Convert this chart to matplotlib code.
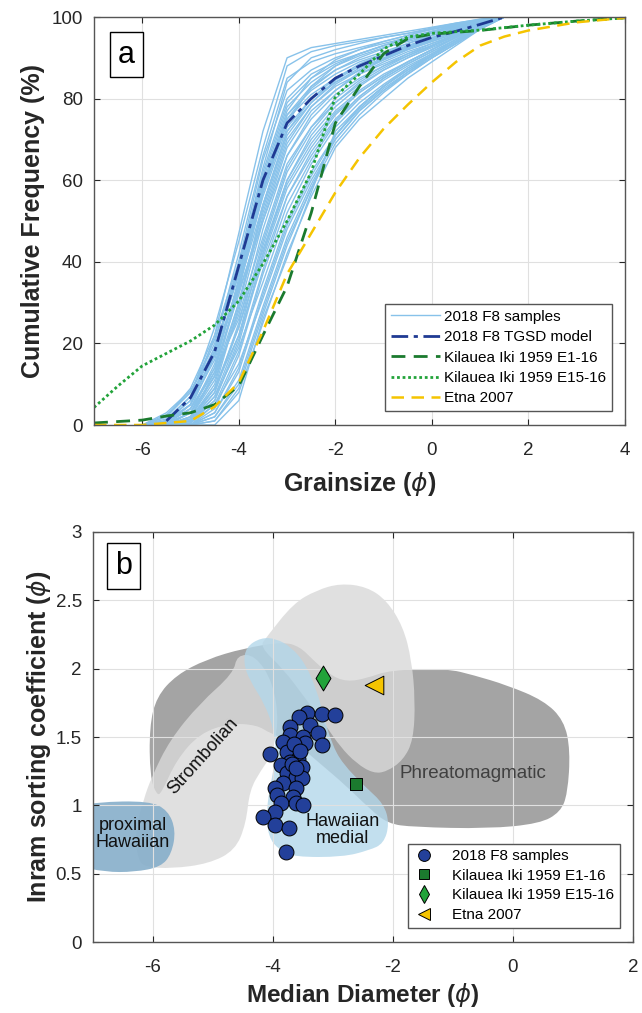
import matplotlib.pyplot as plt
from matplotlib.patches import PathPatch
from matplotlib.path import Path
from matplotlib.lines import Line2D
import numpy as np

plt.rcParams['font.family'] = ['Liberation Sans', 'DejaVu Sans']
plt.rcParams['mathtext.fontset'] = 'dejavusans'
plt.rcParams['axes.unicode_minus'] = False

# ---------------- panel a : cumulative grainsize curves ----------------
phi_grid = [-6, -5.5, -5, -4.5, -4, -3.5, -3, -2.5, -2, -1.5, -1, -0.5, 0, 0.5, 1, 1.5]

sample_cdf = [
    [0, 0, 5, 22, 47, 72, 90, 92.5, 93.5, 94.5, 95.5, 96.5, 97.5, 98.5, 99.5, 100],
    [0, 1, 7, 24, 45, 68, 88, 91.5, 93, 94, 95, 96, 97, 98, 99.3, 100],
    [0, 2, 8, 20, 42, 66, 85, 89, 91, 92.5, 94, 95.5, 97, 98.2, 99.2, 100],
    [0, 0.5, 4, 17, 40, 65, 82, 87, 90, 92, 93.5, 95, 96.5, 97.8, 99, 100],
    [0, 1, 6, 19, 38, 62, 80, 86, 89, 91, 93, 94.5, 96, 97.5, 99, 100],
    [0, 0, 3, 14, 36, 60, 78, 84, 88, 90.5, 92.5, 94, 95.5, 97, 98.8, 100],
    [0, 2, 9, 22, 40, 58, 76, 82, 86, 89, 91, 93, 95, 96.8, 98.5, 100],
    [0, 0, 2, 12, 33, 57, 75, 81, 85, 88, 90.5, 92.5, 94.5, 96.5, 98.5, 100],
    [0, 1, 5, 16, 35, 56, 73, 80, 84, 87, 89.5, 92, 94, 96, 98.2, 100],
    [0, 0, 1.5, 10, 30, 54, 72, 79, 84, 87.5, 90, 92.5, 94.5, 96.5, 98.5, 100],
    [0, 0.5, 4, 14, 32, 52, 70, 78, 83, 86, 89, 91.5, 93.5, 95.5, 98, 100],
    [0, 0, 2, 11, 28, 50, 68, 77, 82, 86, 88.5, 91, 93, 95.5, 98, 100],
    [0, 1, 6, 17, 33, 50, 66, 75, 81, 85, 88, 90.5, 93, 95.5, 98, 100],
    [0, 0, 1, 8, 25, 48, 66, 76, 82, 86.5, 89.5, 92, 94, 96, 98.5, 100],
    [0, 0, 3, 12, 27, 46, 64, 73, 79, 83.5, 87, 90, 92.5, 95, 97.8, 100],
    [0, 0, 0.5, 7, 22, 44, 62, 72, 79, 84, 87.5, 90.5, 93, 95.5, 98, 100],
    [0, 0.5, 4, 13, 26, 43, 60, 70, 77, 82, 86, 89, 92, 95, 97.8, 100],
    [0, 0, 1, 6, 20, 41, 58, 68, 76, 81.5, 85.5, 89, 92, 95, 97.5, 100],
    [0, 0, 2, 9, 22, 40, 56, 67, 75, 80.5, 85, 88.5, 91.5, 94.5, 97.5, 100],
    [0, 0, 0, 4, 17, 37, 54, 65, 74, 80, 84.5, 88, 91, 94, 97.2, 100],
    [0, 0, 1, 7, 19, 35, 52, 64, 73, 79, 83.5, 87.5, 91, 94.5, 97.5, 100],
    [0, 0, 0, 3, 14, 33, 50, 62, 71, 77.5, 82.5, 86.5, 90, 93.5, 97, 100],
    [0, 0, 0.5, 5, 15, 31, 48, 60, 70, 77, 82, 86.5, 90.5, 94, 97.5, 100],
    [0, 0, 0, 2, 11, 29, 46, 59, 70, 77, 82, 86, 90, 93.5, 97.2, 100],
    [0, 0, 0, 1, 9, 27, 44, 58, 71, 78, 83, 87, 90.5, 94, 97.5, 100],
    [0, 0, 0, 0, 6, 26, 41, 57, 72, 78, 83, 87.5, 90.6, 94, 98, 100],
    [0, 0, 0, 1, 8, 25, 42, 56, 68, 75, 80, 85, 89, 93, 97, 100],
    [0, 1.5, 7, 19, 37, 57, 74, 83, 88, 91, 93, 95, 96.5, 98, 99.2, 100],
    [0, 0, 3, 15, 35, 59, 77, 85, 89.5, 92, 94, 95.5, 97, 98.3, 99.3, 100],
    [0, 0.5, 5, 18, 39, 63, 84, 90, 92, 93.5, 95, 96, 97.3, 98.5, 99.4, 100],
    [0, 0, 2, 13, 34, 58, 76, 83, 87, 89.5, 91.5, 93.5, 95.5, 97.2, 98.8, 100],
    [0, 1, 5, 18, 37, 61, 79, 85, 88.5, 91, 93, 94.8, 96.3, 97.8, 99, 100],
    [0, 0, 1, 9, 29, 53, 71, 79, 84.5, 88, 90.5, 92.8, 94.8, 96.8, 98.6, 100],
    [0, 0.5, 3, 12, 30, 51, 69, 78, 83.5, 87, 89.8, 92.2, 94.3, 96.3, 98.4, 100],
    [0, 0, 1, 8, 24, 45, 63, 73, 80, 84.5, 88, 91, 93.5, 95.8, 98.2, 100],
    [0, 0, 0.5, 6, 21, 42, 60, 71, 78, 83, 87, 90, 92.8, 95.3, 98, 100],
    [0, 0, 1.5, 9, 24, 42, 59, 69, 76.5, 81.5, 85.5, 89, 92, 95, 97.7, 100],
    [0, 0, 0, 5, 18, 38, 56, 66, 74.5, 80.5, 85, 88.5, 91.5, 94.5, 97.5, 100],
    [0, 0, 0, 3, 13, 32, 49, 61, 71, 78, 83, 87, 90.5, 94, 97.4, 100],
    [0, 0, 0, 2, 10, 28, 45, 58, 69, 76, 81.5, 86, 90, 93.5, 97.2, 100],
    [0, 2.5, 8, 21, 39, 58, 75, 82.5, 87, 90, 92.3, 94.3, 96, 97.6, 99, 100],
    [0, 3, 8.5, 18, 34, 54, 72, 80, 85, 88.5, 91, 93.5, 95.5, 97.3, 98.8, 100],
]

tgsd_phi = [-5.5, -5, -4.5, -4, -3.5, -3, -2.5, -2, -1.5, -1, -0.5, 0, 0.5, 1, 1.5]
tgsd_cdf = [1, 6.7, 18, 39, 60, 74, 80, 85, 88, 90.5, 93, 95, 96.5, 98.2, 100]

ki_e1_phi = [-7, -6, -5.5, -5, -4.5, -4, -3.5, -3, -2.5, -2, -1.5, -1, -0.5, 0, 1, 2, 3, 4]
ki_e1_cdf = [0.5, 1.2, 2.2, 3, 5, 9.6, 22, 34, 52, 74, 83, 91, 94.7, 95.8, 96.7, 98, 99, 99.8]

ki_e15_phi = [-7, -6.5, -6, -5, -4.5, -4, -3.5, -3, -2.5, -2, -1.5, -1, -0.5, 0, 1, 2, 3, 4]
ki_e15_cdf = [4.3, 9.6, 14.5, 20.6, 24.5, 30.4, 39.5, 50, 62, 80.5, 86, 92.2, 95.1, 96, 96.8, 98, 99, 99.8]

etna_phi = [-7, -6, -5, -4.5, -4, -3.5, -3, -2.5, -2, -1.5, -1, -0.5, 0, 0.5, 1, 1.5, 2, 3, 4]
etna_cdf = [0, 0, 1, 4.5, 10.4, 23, 37, 47, 57, 65.5, 72.6, 78.5, 84, 89, 93, 95.2, 96.7, 98.7, 99.8]

# ---------------- panel b : median vs sorting ----------------
f8_median = [-3.44, -3.56, -3.19, -2.97, -3.72, -3.38, -3.25, -3.72, -3.50, -3.83,
             -3.47, -3.19, -4.05, -3.77, -3.58, -3.72, -3.86, -3.52, -3.77, -3.61,
             -3.52, -3.83, -3.97, -3.61, -3.94, -3.66, -3.86, -3.62, -3.50, -3.97,
             -4.16, -3.97, -3.74, -3.78, -3.65, -3.55, -3.68, -3.62]
f8_sorting = [1.673, 1.644, 1.666, 1.660, 1.575, 1.587, 1.527, 1.514, 1.502, 1.465,
              1.458, 1.441, 1.375, 1.392, 1.339, 1.319, 1.295, 1.282, 1.234, 1.209,
              1.197, 1.161, 1.124, 1.124, 1.075, 1.063, 1.015, 1.015, 1.002, 0.953,
              0.917, 0.856, 0.832, 0.661, 1.45, 1.40, 1.30, 1.27]

ki_e1_md, ki_e1_so = [-2.61], [1.159]
ki_e15_md, ki_e15_so = [-3.17], [1.934]
etna_md, etna_so = [-2.31], [1.883]

# eruption-style fields (outline vertices, phi units)
phreato_xy = [(-5.94, 1.076), (-6.05, 1.21), (-6.06, 1.576), (-5.94, 1.795), (-5.61, 1.954),
              (-5.11, 2.068), (-4.49, 2.149), (-3.83, 2.197), (-3.55, 2.16), (-3.33, 2.063),
              (-3.05, 1.953), (-2.77, 1.904), (-2.44, 1.93), (-2.05, 1.99), (-1.10, 2.0),
              (-0.66, 1.953), (-0.105, 1.88), (0.51, 1.768), (0.85, 1.622), (0.955, 1.402),
              (0.91, 1.085), (0.79, 0.951), (0.447, 0.866), (-0.42, 0.829), (-1.66, 0.841),
              (-2.09, 0.866), (-2.4, 0.98), (-2.8, 1.15), (-3.2, 1.3), (-3.6, 1.45),
              (-4.05, 1.527), (-4.27, 1.588), (-4.72, 1.6), (-5.22, 1.527), (-5.61, 1.332),
              (-5.86, 1.088)]
strombolian_xy = [(-6.12, 0.549), (-5.69, 0.537), (-5.07, 0.573), (-4.63, 0.671), (-4.45, 0.866),
                  (-4.39, 1.11), (-4.2, 1.256), (-4.04, 1.354), (-3.9, 1.6), (-4.0, 1.9),
                  (-4.3, 2.1), (-4.6, 2.1), (-4.66, 1.966), (-5.22, 1.746), (-5.72, 1.478),
                  (-6.02, 1.21), (-6.16, 1.04), (-6.3, 0.8), (-6.25, 0.6)]
upper_xy = [(-4.105, 2.233), (-3.66, 2.478), (-3.27, 2.575), (-2.88, 2.624), (-2.44, 2.6),
            (-2.105, 2.50), (-1.83, 2.306), (-1.69, 2.063), (-1.63, 1.77), (-1.66, 1.478),
            (-1.83, 1.331), (-2.105, 1.246), (-2.33, 1.234), (-2.61, 1.307), (-2.88, 1.429),
            (-3.105, 1.575), (-3.44, 1.77), (-3.83, 2.0), (-4.22, 2.16)]
medial_xy = [(-4.20, 2.227), (-4.45, 2.159), (-4.49, 2.037), (-4.39, 1.915), (-4.14, 1.744),
             (-3.98, 1.549), (-3.95, 1.354), (-4.04, 1.159), (-4.11, 0.963), (-4.08, 0.768),
             (-3.89, 0.671), (-3.64, 0.622), (-2.84, 0.622), (-2.40, 0.671), (-2.155, 0.72),
             (-2.06, 0.866), (-2.155, 1.012), (-2.46, 1.134), (-2.84, 1.305), (-3.02, 1.451),
             (-3.15, 1.646), (-3.27, 1.841), (-3.46, 2.037), (-3.70, 2.159), (-3.95, 2.22)]
proximal_xy = [(-7.3, 0.98), (-6.96, 1.024), (-6.06, 1.032), (-5.75, 0.963), (-5.62, 0.817),
               (-5.69, 0.646), (-5.87, 0.549), (-6.31, 0.512), (-6.80, 0.512), (-7.3, 0.56)]

txt = '#262626'


def smooth_patch(xy, **kw):
    # closed outline with rounded corners (quadratic bezier through edge midpoints)
    pts = np.asarray(xy, dtype=float)
    mids = (pts + np.roll(pts, -1, axis=0)) / 2
    verts = [mids[-1]]
    codes = [Path.MOVETO]
    for p, m in zip(pts, mids):
        verts += [p, m]
        codes += [Path.CURVE3, Path.CURVE3]
    return PathPatch(Path(verts, codes), **kw)


def style_axes(ax):
    ax.grid(True, color='#E0E0E0', lw=0.8)
    ax.tick_params(direction='in', top=True, right=True, labelsize=13.5,
                   colors=txt, length=4)
    ax.tick_params(axis='x', pad=12)
    ax.tick_params(axis='y', pad=8)
    for s in ax.spines.values():
        s.set_color('#555555')
        s.set_linewidth(1.0)


fig = plt.figure(figsize=(6.42, 10.13), dpi=100)
ax1 = fig.add_axes([94 / 642, (1013 - 425) / 1013, 531 / 642, 408 / 1013])
ax2 = fig.add_axes([93 / 642, (1013 - 942) / 1013, 540 / 642, 410 / 1013])

# panel a
for i, cdf in enumerate(sample_cdf):
    ax1.plot(phi_grid, cdf, color='#88C2EA', lw=1.0,
             label='2018 F8 samples' if i == 0 else None)
ax1.plot(tgsd_phi, tgsd_cdf, color='#1F3A93', lw=2, ls=(0, (6, 2, 1.5, 2)),
         label='2018 F8 TGSD model')
ax1.plot(ki_e1_phi, ki_e1_cdf, color='#1B7A2E', lw=2, ls=(0, (5, 3)),
         label='Kilauea Iki 1959 E1-16')
ax1.plot(ki_e15_phi, ki_e15_cdf, color='#22A33A', lw=2, ls=(0, (1, 1)),
         label='Kilauea Iki 1959 E15-16')
ax1.plot(etna_phi, etna_cdf, color='#F5C400', lw=1.8, ls=(0, (5, 3)),
         label='Etna 2007')
ax1.set_xlim(-7, 4)
ax1.set_ylim(0, 100)
ax1.set_xticks([-6, -4, -2, 0, 2, 4])
ax1.set_yticks([0, 20, 40, 60, 80, 100])
style_axes(ax1)
ax1.set_xlabel(r'Grainsize ($\phi$)', fontsize=18, fontweight='bold', color=txt, labelpad=8)
ax1.set_ylabel('Cumulative Frequency (%)', fontsize=18, fontweight='bold', color=txt, labelpad=5)
leg1 = ax1.legend(loc='lower right', bbox_to_anchor=(0.975, 0.035), fontsize=11,
                  handlelength=3.2, handletextpad=0.3, borderpad=0.35, labelspacing=0.42,
                  borderaxespad=0, fancybox=False, framealpha=1, edgecolor='#555555')
leg1.get_frame().set_linewidth(1.0)
ax1.text(0.061, 0.908, 'a', transform=ax1.transAxes, fontsize=22, ha='center', va='center',
         bbox=dict(boxstyle='square,pad=0.26', fc='white', ec='black', lw=1))

# panel b
ax2.add_patch(smooth_patch(phreato_xy, fc='#A4A4A4', ec='none', zorder=1))
ax2.add_patch(smooth_patch(strombolian_xy, fc='#D9D9D9', ec='none', alpha=0.8, zorder=1.1))
ax2.add_patch(smooth_patch(upper_xy, fc='#D9D9D9', ec='none', alpha=0.8, zorder=1.1))
ax2.add_patch(smooth_patch(medial_xy, fc='#B3D7EA', ec='none', alpha=0.8, zorder=1.2))
ax2.add_patch(smooth_patch(proximal_xy, fc='#86AECA', ec='none', alpha=0.9, zorder=1.3))

ax2.scatter(f8_median, f8_sorting, s=115, marker='o', fc='#23409A', ec='black', lw=0.7, zorder=3)
ax2.scatter(ki_e1_md, ki_e1_so, s=75, marker='s', fc='#1B7A2E', ec='black', lw=0.7, zorder=3)
ax2.scatter(ki_e15_md, ki_e15_so, s=160, marker='d', fc='#22A33A', ec='black', lw=0.7, zorder=3)
ax2.scatter(etna_md, etna_so, s=180, marker='<', fc='#F5C400', ec='black', lw=0.7, zorder=3)

ax2.text(-6.34, 0.79, 'proximal\nHawaiian', fontsize=13, ha='center', va='center',
         color='#111111', linespacing=1.0, zorder=4)
ax2.text(-5.16, 1.356, 'Strombolian', fontsize=13, rotation=48, ha='center', va='center',
         color='#111111', zorder=4)
ax2.text(-2.84, 0.817, 'Hawaiian\nmedial', fontsize=13, ha='center', va='center',
         color='#111111', linespacing=1.0, zorder=4)
ax2.text(-0.67, 1.232, 'Phreatomagmatic', fontsize=13.5, ha='center', va='center',
         color='#404040', zorder=4)

ax2.set_xlim(-7, 2)
ax2.set_ylim(0, 3)
ax2.set_xticks([-6, -4, -2, 0, 2])
ax2.set_yticks([0, 0.5, 1, 1.5, 2, 2.5, 3])
ax2.set_yticklabels(['0', '0.5', '1', '1.5', '2', '2.5', '3'])
style_axes(ax2)
ax2.set_xlabel(r'Median Diameter ($\phi$)', fontsize=17.5, fontweight='bold', color=txt, labelpad=4)
ax2.set_ylabel(r'Inram sorting coefficient ($\phi$)', fontsize=18, fontweight='bold', color=txt, labelpad=2)

handles = [
    Line2D([], [], ls='none', marker='o', ms=8.5, mfc='#23409A', mec='black', mew=0.7),
    Line2D([], [], ls='none', marker='s', ms=7, mfc='#1B7A2E', mec='black', mew=0.7),
    Line2D([], [], ls='none', marker='d', ms=9, mfc='#22A33A', mec='black', mew=0.7),
    Line2D([], [], ls='none', marker='<', ms=9, mfc='#F5C400', mec='black', mew=0.7),
]
labels = ['2018 F8 samples', 'Kilauea Iki 1959 E1-16', 'Kilauea Iki 1959 E15-16', 'Etna 2007']
leg2 = ax2.legend(handles, labels, loc='lower right', bbox_to_anchor=(0.975, 0.035), fontsize=11,
                  handlelength=1.4, handletextpad=1.15, borderpad=0.35, labelspacing=0.38,
                  borderaxespad=0, fancybox=False, framealpha=1, edgecolor='#555555')
leg2.get_frame().set_linewidth(1.0)
leg2.set_zorder(5)
ax2.text(0.057, 0.917, 'b', transform=ax2.transAxes, fontsize=22, ha='center', va='center',
         bbox=dict(boxstyle='square,pad=0.26', fc='white', ec='black', lw=1), zorder=5)

fig.savefig('out.png', dpi=100)
